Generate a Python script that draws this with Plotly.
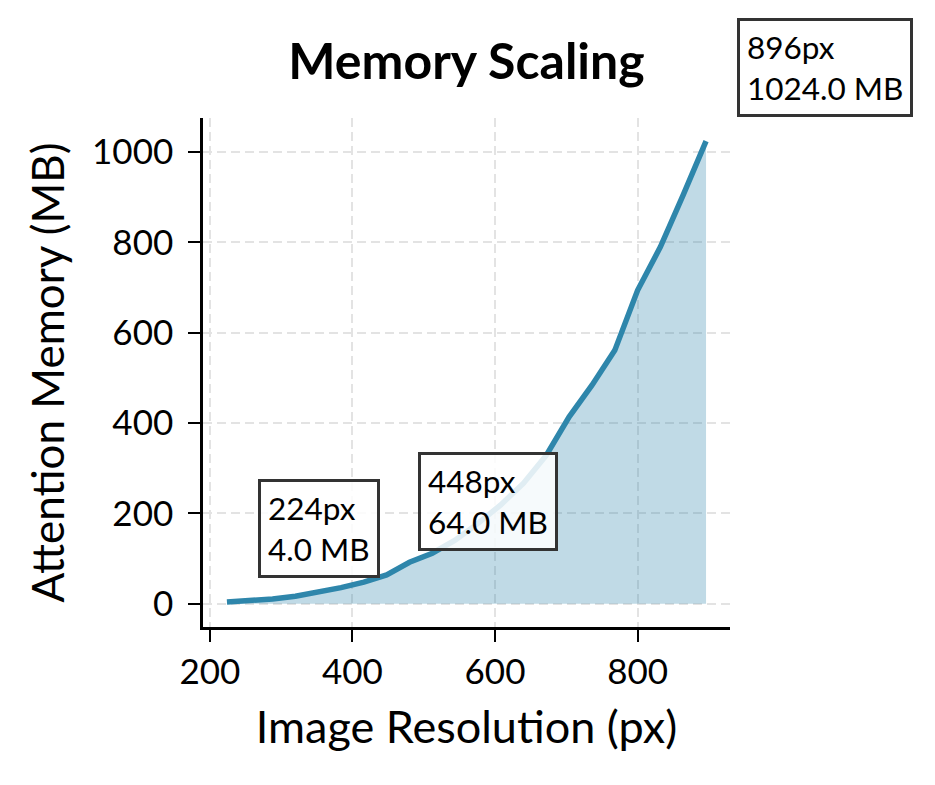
import plotly.graph_objects as go

# image side in px and attention memory in MB
resolution = [224, 256, 288, 320, 352, 384, 416, 448, 480, 512, 544,
              576, 608, 640, 672, 704, 736, 768, 800, 832, 864, 896]
memory_mb = [4, 7, 11, 17, 25, 36, 48, 64, 92, 112, 141,
             178, 219, 267, 329, 414, 484, 561, 694, 790, 905, 1024]
labelled = [224, 448, 896]

line_color = "#2E86AB"
font_family = "Lato"

# the page body adds an 8px offset, so the figure is drawn 8px smaller
W, H = 927, 777

fig = go.Figure()
fig.add_trace(go.Scatter(
    x=resolution, y=memory_mb,
    mode="lines",
    line=dict(color=line_color, width=5.5),
    fill="tozeroy",
    fillcolor="rgba(46,134,171,0.3)",
    hoverinfo="skip",
))

for r in labelled:
    m = memory_mb[resolution.index(r)]
    fig.add_annotation(
        x=r, y=m, xref="x", yref="y",
        text=f"{r}px<br>{m:.1f} MB",
        showarrow=False,
        xanchor="left", yanchor="bottom",
        xshift=31, yshift=24,
        align="left",
        font=dict(family=font_family, size=31.5, color="black"),
        bgcolor="rgba(255,255,255,0.85)",
        bordercolor="#333333", borderwidth=3, borderpad=7,
    )

span_x = max(resolution) - min(resolution)
span_y = max(memory_mb)
fig.update_xaxes(
    range=[min(resolution) - 0.05 * span_x, max(resolution) + 0.05 * span_x],
    tickvals=[200, 400, 600, 800],
    showline=True, linecolor="black", linewidth=2.5,
    ticks="outside", ticklen=12, tickwidth=2.2, tickcolor="black",
    tickfont=dict(family=font_family, size=35, color="black"),
    showgrid=True, gridcolor="#e3e3e3", gridwidth=2, griddash="9px,5px",
    zeroline=False,
    title=dict(text="Image Resolution (px)",
               font=dict(family=font_family, size=45, color="black"),
               standoff=22),
)
fig.update_yaxes(
    range=[-0.05 * span_y, 1.05 * span_y],
    tickvals=[0, 200, 400, 600, 800, 1000],
    showline=True, linecolor="black", linewidth=2.5,
    ticks="outside", ticklen=12, tickwidth=2.2, tickcolor="black",
    tickfont=dict(family=font_family, size=35, color="black"),
    ticklabelstandoff=8,
    showgrid=True, gridcolor="#e3e3e3", gridwidth=2, griddash="9px,5px",
    zeroline=False,
    title=dict(text="Attention Memory (MB)",
               font=dict(family=font_family, size=44, color="black"),
               standoff=14),
)

fig.update_layout(
    width=W, height=H,
    margin=dict(l=195, r=205, t=110, b=158),
    paper_bgcolor="white", plot_bgcolor="white",
    showlegend=False,
    title=dict(text="Memory Scaling", x=0.5, xref="paper",
               y=1 - 53 / H, yanchor="middle",
               font=dict(family=font_family, size=50, weight="bold", color="black")),
)

fig.write_html("out.html")
